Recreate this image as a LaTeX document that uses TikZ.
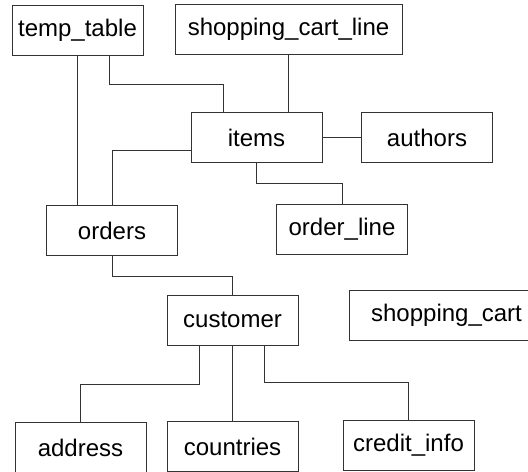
\documentclass[tikz,border=0pt]{standalone}
\usepackage{fontspec}
\setmainfont{Liberation Sans}
\usetikzlibrary{positioning}
\tikzset{
  tbl/.style={draw=black!80, line width=0.5pt, minimum width=65.5pt, minimum height=25pt,
              inner sep=0pt, font=\fontsize{12}{14}\selectfont},
  link/.style={draw=black!80, line width=0.5pt}
}

\begin{document}
\begin{tikzpicture}[x=0.5pt,y=-0.5pt]

\useasboundingbox (0,0) rectangle (528,471);

% ---------------- Tables ----------------
\node[tbl] (temptable) at (77.5,30) {temp\_table};
\node[tbl, minimum width=113.5pt] (cartline) at (288.5,29.5) {shopping\_cart\_line};
\node[tbl] (items) at (256.5,137.5) {items};
\node[tbl] (authors) at (427,137.5) {authors};
\node[tbl] (orders) at (112,230.5) {orders};
\node[tbl] (orderline) at (342,229) {order\_line};
\node[tbl] (customer) at (232.5,320) {customer};
\node[tbl, minimum width=97pt] (cart) at (446.5,315) {shopping\_cart};
\node[tbl] (address) at (80.5,447.5) {address};
\node[tbl] (countries) at (232.5,446.5) {countries};
\node[tbl] (credit) at (408.5,445) {credit\_info};

% ---------------- Links ----------------
\draw[link] (temptable.south) -- (temptable.south |- orders.north);
\draw[link] ([xshift=16pt]temptable.south) -- ++(0,28.5) -| ([xshift=-16.5pt]items.north);
\draw[link] (cartline.south) -- (cartline.south |- items.north);
\draw[link] (items) -- (authors);
\draw[link] ([yshift=-6.5pt]items.west) -| (orders.north);
\draw[link] (items.south) -- ++(0,20.5) -| (orderline.north);

\draw[link] (orders.south) -- ++(0,20) -| (customer.north);
\draw[link] ([xshift=-16.5pt]customer.south) -- ++(0,38.5) -| (address.north);
\draw[link] (customer) -- (countries);
\draw[link] ([xshift=16pt]customer.south) -- ++(0,37) -| (credit.north);

\end{tikzpicture}
\end{document}
